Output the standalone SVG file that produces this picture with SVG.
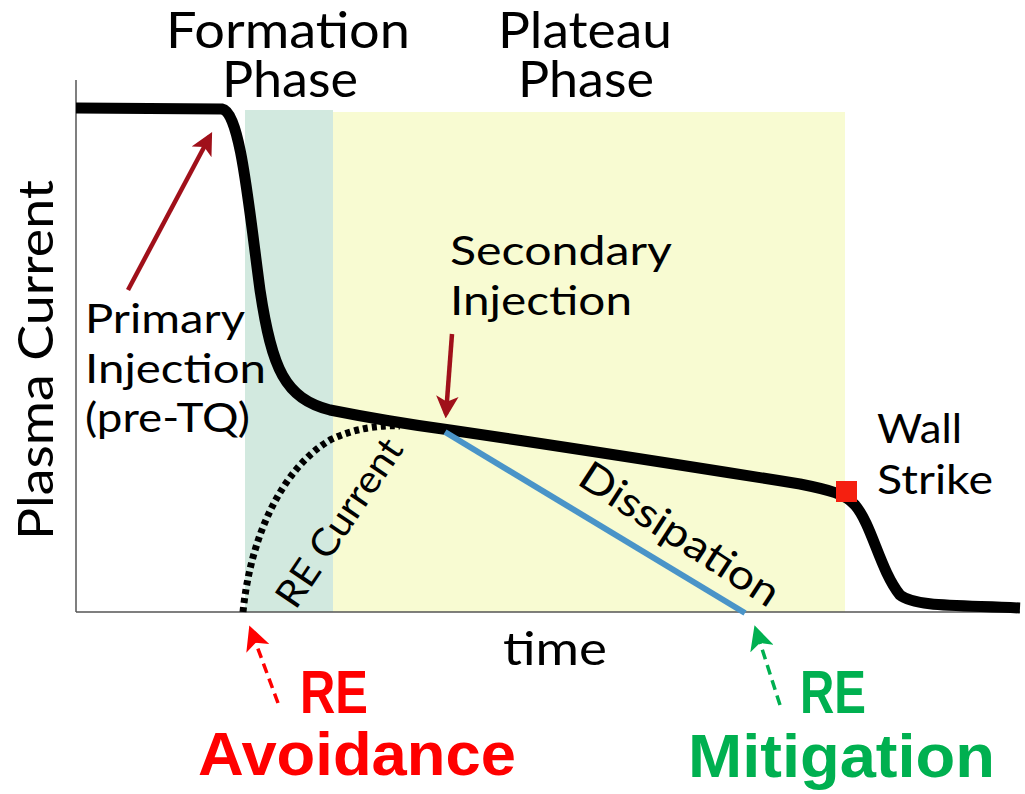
<svg xmlns="http://www.w3.org/2000/svg" width="1025" height="794" viewBox="0 0 1025 794">
<style>
.lbl{font-family:Lato,"Noto Sans",sans-serif;fill:#000}
.big{font-family:"Liberation Sans",Arial,sans-serif;font-weight:bold}
</style>
<defs>
<marker id="ahDark" viewBox="0 0 10 10" refX="8" refY="5" markerWidth="5" markerHeight="5" orient="auto" markerUnits="strokeWidth"><path d="M0,0 L10,5 L0,10 L2.5,5 z" fill="#a0101a"/></marker>
<marker id="ahRed" viewBox="0 0 10 10" refX="8" refY="5" markerWidth="7" markerHeight="7" orient="auto" markerUnits="strokeWidth"><path d="M0,0 L10,5 L0,10 L2.5,5 z" fill="#ff0000"/></marker>
<marker id="ahGreen" viewBox="0 0 10 10" refX="8" refY="5" markerWidth="7" markerHeight="7" orient="auto" markerUnits="strokeWidth"><path d="M0,0 L10,5 L0,10 L2.5,5 z" fill="#00b050"/></marker>
</defs>
<rect width="1025" height="794" fill="#fff"/>
<g id="phases">
<rect x="245" y="110" width="88" height="502" fill="#d2e9df"/>
<rect x="333" y="112" width="512" height="500" fill="#f8fbd2"/>
</g>
<g id="axes" stroke="#555" stroke-width="1.5" fill="none">
<line x1="76" y1="80" x2="76" y2="612"/>
<line x1="76" y1="612" x2="1020" y2="612"/>
</g>
<g id="connectors" fill="none">
<path id="re-current" d="M243,612 C250,540 280,470 330,440 C355,428 380,425 400,426" stroke="#000" stroke-width="7" stroke-dasharray="5,4"/>
<path id="plasma-current" d="M76,108 L222,109 C240,112 248,200 260,290 C272,370 285,398 330,410 C380,420 420,426 450,430 C600,452 700,468 800,484 C830,490 845,494 855,505 C872,525 880,570 900,595 C915,607 960,605 1020,608" stroke="#000" stroke-width="11" stroke-linejoin="round"/>
<line id="dissipation" x1="445" y1="432" x2="745" y2="613" stroke="#4a94c8" stroke-width="6"/>
<line x1="128" y1="290" x2="210" y2="136" stroke="#a0101a" stroke-width="4.5" marker-end="url(#ahDark)"/>
<line x1="452" y1="334" x2="446" y2="414" stroke="#a0101a" stroke-width="4.5" marker-end="url(#ahDark)"/>
<line x1="278" y1="703" x2="251" y2="630" stroke="#ff0000" stroke-width="3.5" stroke-dasharray="10,6" marker-end="url(#ahRed)"/>
<line x1="780" y1="705" x2="756" y2="630" stroke="#00b050" stroke-width="3.5" stroke-dasharray="10,6" marker-end="url(#ahGreen)"/>
</g>
<g id="wall-strike-marker"><rect x="836" y="481" width="21" height="21" fill="#f52010"/></g>
<g id="labels" class="lbl">
<text x="288" y="48" font-size="50" text-anchor="middle" textLength="244" lengthAdjust="spacingAndGlyphs">Formation</text>
<text x="290" y="97" font-size="50" text-anchor="middle" textLength="136" lengthAdjust="spacingAndGlyphs">Phase</text>
<text x="585" y="48" font-size="50" text-anchor="middle" textLength="174" lengthAdjust="spacingAndGlyphs">Plateau</text>
<text x="586" y="97" font-size="50" text-anchor="middle" textLength="136" lengthAdjust="spacingAndGlyphs">Phase</text>
<text transform="translate(53,360) rotate(-90)" font-size="48" text-anchor="middle" textLength="360" lengthAdjust="spacingAndGlyphs">Plasma Current</text>
<text x="85" y="333" font-size="41" textLength="160" lengthAdjust="spacingAndGlyphs">Primary</text>
<text x="85" y="383" font-size="41" textLength="181" lengthAdjust="spacingAndGlyphs">Injection</text>
<text x="85" y="432" font-size="41" textLength="165" lengthAdjust="spacingAndGlyphs">(pre-TQ)</text>
<text x="450" y="265" font-size="41" textLength="222" lengthAdjust="spacingAndGlyphs">Secondary</text>
<text x="450" y="315" font-size="41" textLength="182" lengthAdjust="spacingAndGlyphs">Injection</text>
<text x="877" y="443" font-size="41" textLength="85" lengthAdjust="spacingAndGlyphs">Wall</text>
<text x="877" y="494" font-size="41" textLength="116" lengthAdjust="spacingAndGlyphs">Strike</text>
<text x="555" y="665" font-size="46" text-anchor="middle" textLength="104" lengthAdjust="spacingAndGlyphs">time</text>
<text transform="translate(350,530) rotate(-56)" font-size="38" text-anchor="middle" textLength="195" lengthAdjust="spacingAndGlyphs">RE Current</text>
<text transform="translate(672,546) rotate(33)" font-size="41" text-anchor="middle" textLength="230" lengthAdjust="spacingAndGlyphs">Dissipation</text>
</g>
<g id="outcomes" class="big">
<text x="300" y="713" font-size="62" fill="#ff0000" textLength="68" lengthAdjust="spacingAndGlyphs">RE</text>
<text x="198" y="775" font-size="62" fill="#ff0000" textLength="318" lengthAdjust="spacingAndGlyphs">Avoidance</text>
<text x="800" y="713" font-size="62" fill="#00b050" textLength="66" lengthAdjust="spacingAndGlyphs">RE</text>
<text x="688" y="777" font-size="62" fill="#00b050" textLength="307" lengthAdjust="spacingAndGlyphs">Mitigation</text>
</g>
</svg>
